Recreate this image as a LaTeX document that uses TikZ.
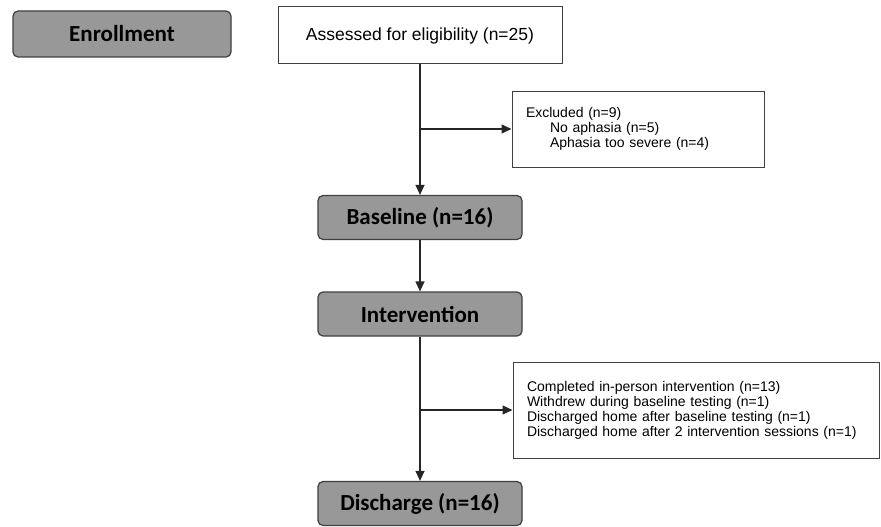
\documentclass[tikz,border=0pt]{standalone}
\usepackage{fontspec}
\setmainfont{Liberation Sans}
\newfontfamily\stagefont{Carlito}
\usetikzlibrary{positioning, arrows.meta, calc}
\definecolor{stagegray}{RGB}{152,152,152}
\tikzset{
  stage/.style = {draw=black!75, line width=1.2pt, rounded corners=5pt, fill=stagegray,
                  font=\stagefont\bfseries\fontsize{23}{26}\selectfont,
                  minimum width=204pt, minimum height=44pt, inner sep=0pt},
  plainbox/.style = {draw=black!75, line width=1pt, inner sep=0pt,
                  font=\fontsize{17.5}{20}\selectfont},
  note/.style  = {draw=black!75, line width=1pt, align=left, inner xsep=14pt,
                  inner ysep=0pt, font=\fontsize{14}{15}\selectfont},
  ar/.style    = {-{Triangle[length=10pt,width=9pt]}, line width=1.2pt, black!85},
}

\begin{document}
\begin{tikzpicture}[x=1pt, y=-1pt]
    \useasboundingbox (0,0) rectangle (881,527);
    \node[stage, minimum width=218pt, minimum height=46pt] (enrol) at (122,34) {Enrollment};
    \node[plainbox, minimum width=284pt, minimum height=57pt] (assess) at (420,35.5)
      {Assessed for eligibility (n=25)};
    \node[note, text width=224pt, minimum height=76pt] (excl) at (638,129)
      {Excluded (n=9)\\
       \hspace*{24pt}No aphasia (n=5)\\
       \hspace*{24pt}Aphasia too severe (n=4)};
    \node[stage] (base) at (420,217.5) {Baseline (n=16)};
    \node[stage] (interv) at (420,314) {Intervention};
    \node[note, text width=338pt, minimum height=96pt] (compl) at (696,410)
      {Completed in-person intervention (n=13)\\
       Withdrew during baseline testing (n=1)\\
       Discharged home after baseline testing (n=1)\\
       Discharged home after 2 intervention sessions (n=1)};
    \node[stage] (disch) at (420,503.5) {Discharge (n=16)};

    \coordinate (j1) at (assess.south |- excl.west);
    \coordinate (j2) at (interv.south |- compl.west);
    \draw[ar] (assess) -- (base);
    \draw[ar] (j1) -- (excl);
    \draw[ar] (base) -- (interv);
    \draw[ar] (interv) -- (disch);
    \draw[ar] (j2) -- (compl);
  \end{tikzpicture}
\end{document}
